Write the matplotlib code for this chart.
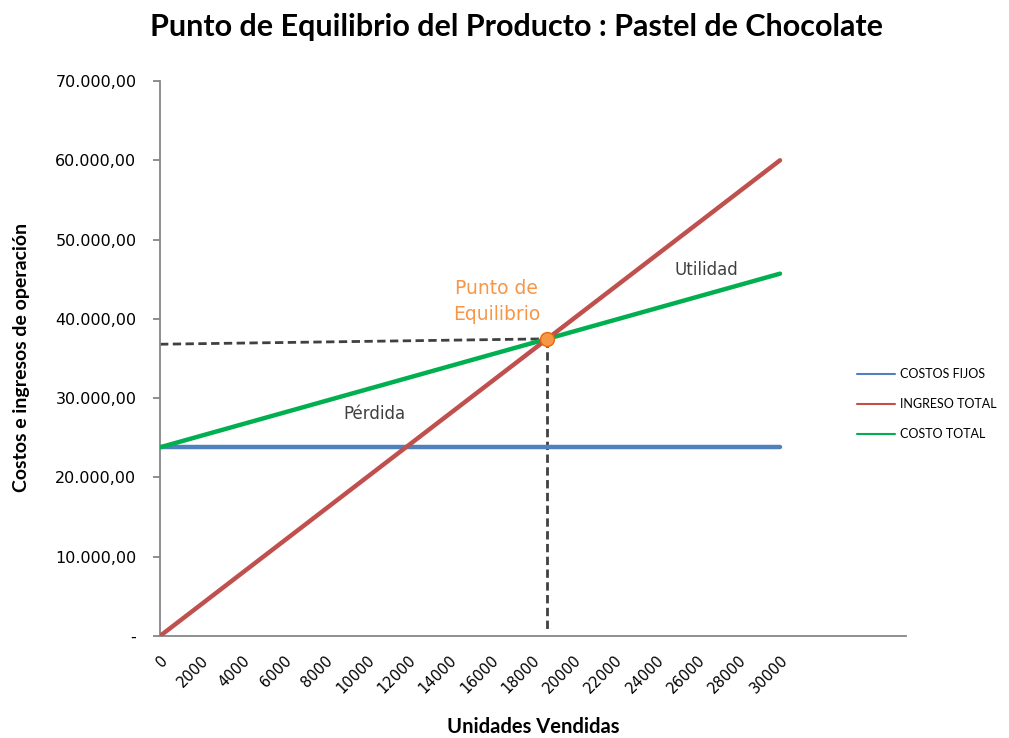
import matplotlib
matplotlib.use("Agg")
import matplotlib.pyplot as plt
from matplotlib.ticker import FuncFormatter

# Units sold (category axis) and the three series
unidades = [0, 2000, 4000, 6000, 8000, 10000, 12000, 14000, 16000,
            18000, 20000, 22000, 24000, 26000, 28000, 30000]
costos_fijos = [23800] * 16
ingreso_total = [0, 4000, 8000, 12000, 16000, 20000, 24000, 28000, 32000,
                 36000, 40000, 44000, 48000, 52000, 56000, 60000]
costo_total = [23800, 25260, 26720, 28180, 29640, 31100, 32560, 34020, 35480,
               36940, 38400, 39860, 41320, 42780, 44240, 45700]

# Break-even point and its guide lines
pe_unidades = 18740
pe_valor = 37480
guia_h_x = [0, pe_unidades]
guia_h_y = [36800, pe_valor]
guia_v_x = [pe_unidades, pe_unidades]
guia_v_y = [pe_valor, 500]

y_ticks = [0, 10000, 20000, 30000, 40000, 50000, 60000, 70000]

fig = plt.figure(figsize=(10.09, 7.38), dpi=100)
ax = fig.add_axes([160 / 1009, 102 / 738, 746 / 1009, 555 / 738])

ax.plot(unidades, costos_fijos, color="#4F81BD", lw=3.2, label="COSTOS FIJOS",
        solid_capstyle="round", zorder=3)
ax.plot(unidades, ingreso_total, color="#C0504D", lw=3.2, label="INGRESO TOTAL",
        solid_capstyle="round", zorder=4)
ax.plot(unidades, costo_total, color="#00B050", lw=3.2, label="COSTO TOTAL",
        solid_capstyle="round", zorder=3)

ax.plot(guia_h_x, guia_h_y, color="#404040", lw=2, ls=(0, (3, 1.6)), zorder=2)
ax.plot(guia_v_x, guia_v_y, color="#404040", lw=2, ls=(0, (3, 1.6)), zorder=2)
ax.plot([pe_unidades], [pe_valor], "o", ms=10, color="#F79646",
        mec="#E36C09", mew=1, zorder=6)

ax.set_xlim(0, 30000 * 746 / 620)
ax.set_ylim(0, 70000)
ax.set_yticks(y_ticks)
ax.yaxis.set_major_formatter(FuncFormatter(
    lambda v, p: "-" if v == 0 else f"{v:,.2f}".replace(",", "X").replace(".", ",").replace("X", ".")))
ax.set_xticks(unidades)
ax.set_xticklabels([str(u) for u in unidades], rotation=45, ha="right",
                   rotation_mode="anchor", fontsize=10.5, color="#000000")

for lab in ax.get_yticklabels():
    lab.set_fontsize(11.5)
    lab.set_color("#000000")

for s in ["top", "right"]:
    ax.spines[s].set_visible(False)
for s in ["left", "bottom"]:
    ax.spines[s].set_color("#868686")
    ax.spines[s].set_linewidth(1.3)
ax.tick_params(axis="y", length=5, color="#868686", width=1.3, pad=12)
ax.tick_params(axis="x", length=0, pad=12)

fig.text(22 / 1009, 1 - 357 / 738, "Costos e ingresos de operación", family="Lato",
         fontweight="bold", fontsize=14, rotation=90, ha="center", va="center")
fig.text(533 / 1009, 1 - 727 / 738, "Unidades Vendidas", family="Lato",
         fontweight="bold", fontsize=14.5, ha="center", va="center")

ax.text(16300, 42200, "Punto de\nEquilibrio", color="#F79646", fontsize=13.5,
        ha="center", va="center", linespacing=1.5)
ax.text(26450, 46100, "Utilidad", color="#404040", fontsize=12, ha="center", va="center")
ax.text(10370, 28000, "Pérdida", color="#404040", fontsize=12, ha="center", va="center")

fig.text(517 / 1009, 1 - 27 / 738, "Punto de Equilibrio del Producto : Pastel de Chocolate",
         family="Lato", fontweight="bold", fontsize=22, ha="center", va="center")

leg = ax.legend(loc="upper left", bbox_to_anchor=(846 / 1009, 1 - 357 / 738),
                bbox_transform=fig.transFigure, frameon=False, handlelength=3.0,
                handletextpad=0.4, labelspacing=1.45, prop={"family": "Lato", "size": 9})
for h in leg.get_lines():
    h.set_linewidth(1.5)

fig.savefig("out.png", dpi=100)
